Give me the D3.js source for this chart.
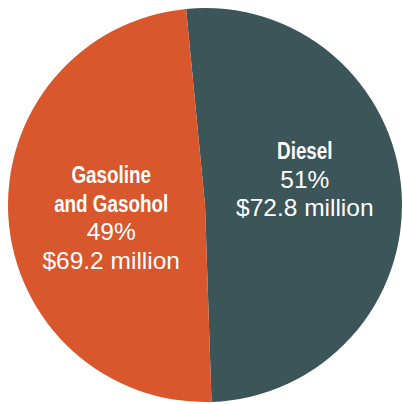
<!DOCTYPE html>
<html>
<head>
<meta charset="utf-8">
<script src="https://cdn.jsdelivr.net/npm/d3@7"></script>
<style>
  body { margin: 0; background: #fff; }
  text { fill: #fff; text-anchor: middle; }
  .name { font-family: "Liberation Sans", Arial, sans-serif; font-weight: bold; font-size: 23px; }
  .val { font-family: "Liberation Sans", Arial, sans-serif; font-size: 24.5px; }
</style>
</head>
<body>
<script>
const categories = ["Diesel", "Gasoline and Gasohol"];
const shares = [51, 49];
const amounts = ["$72.8 million", "$69.2 million"];
const nameLines = [["Diesel"], ["Gasoline", "and Gasohol"]];
const colors = ["#3b5559", "#d8572c"];

const width = 403, height = 404;
const cx = 205, cy = 205, radius = 197;
const startAngle = -5.5 * Math.PI / 180;

const svg = d3.select("body").append("svg")
    .attr("width", width)
    .attr("height", height);

const g = svg.append("g")
    .attr("transform", "translate(" + cx + "," + cy + ")");

const pie = d3.pie()
    .sort(null)
    .startAngle(startAngle)
    .endAngle(startAngle + 2 * Math.PI)
    .value(d => d);

const arcs = pie(shares);
const arc = d3.arc().innerRadius(0).outerRadius(radius);

g.selectAll("path")
    .data(arcs)
    .enter().append("path")
    .attr("d", arc)
    .attr("fill", (d, i) => colors[i]);

// label layout: radius of label centre, baseline of first line
const labelRadius = [100, 94];
const firstBase = [-46, -22];
const lineH = 28.5;

arcs.forEach(function (d, i) {
    const c = d3.arc().innerRadius(labelRadius[i]).outerRadius(labelRadius[i]).centroid(d);
    const lines = nameLines[i].map(t => ({ t, cls: "name" }))
        .concat([{ t: shares[i] + "%", cls: "val" }, { t: amounts[i], cls: "val" }]);
    g.selectAll(null)
        .data(lines)
        .enter().append("text")
        .attr("class", l => l.cls)
        .attr("transform", (l, j) => "translate(" + c[0] + "," + (firstBase[i] + j * lineH) + ")" +
            (l.cls === "name" ? " scale(0.82,1)" : ""))
        .text(l => l.t);
});
</script>
</body>
</html>
